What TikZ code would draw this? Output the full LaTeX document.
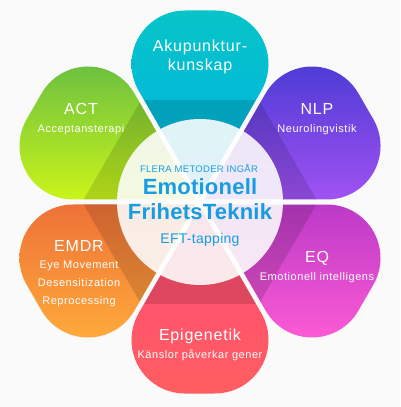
\documentclass[tikz,border=0pt]{standalone}
\usepackage{fontspec}
\setmainfont{Liberation Sans}
\definecolor{bgcol}{RGB}{250,250,250}
\definecolor{hubblue}{RGB}{22,156,226}
\definecolor{akuTop}{RGB}{6,196,200}
\definecolor{akuBot}{RGB}{0,176,228}
\definecolor{nlpTop}{RGB}{74,58,212}
\definecolor{nlpBot}{RGB}{160,82,242}
\definecolor{eqTop}{RGB}{188,58,200}
\definecolor{eqBot}{RGB}{255,92,212}
\definecolor{epiTop}{RGB}{255,72,122}
\definecolor{epiBot}{RGB}{255,94,96}
\definecolor{emdrTop}{RGB}{238,114,56}
\definecolor{emdrBot}{RGB}{255,172,58}
\definecolor{actTop}{RGB}{104,190,66}
\definecolor{actBot}{RGB}{202,244,26}
% one petal, pointing up, tip of the wedge at the origin
\newcommand{\petalpath}{(0,0) -- (60:122.7) arc[start angle=-30, end angle=90, radius=53.5] -- (-15,186.5) arc[start angle=90, end angle=210, radius=53.5] -- cycle}

\begin{document}
\begin{tikzpicture}[x=1pt, y=1pt,
	title/.style={white, anchor=base, inner sep=0, font=\fontsize{16}{19}\selectfont\addfontfeature{LetterSpace=5}},
	sub/.style={white, anchor=base, inner sep=0, font=\fontsize{11}{13}\selectfont\addfontfeature{LetterSpace=5}},
	hubsmall/.style={hubblue, anchor=base, inner sep=0, font=\fontsize{9.5}{11}\selectfont\addfontfeature{LetterSpace=3}},
	hubbig/.style={hubblue, anchor=base, inner sep=0, font=\fontsize{22}{25}\selectfont\bfseries\addfontfeature{LetterSpace=1}},
	hubmid/.style={hubblue, anchor=base, inner sep=0, font=\fontsize{14}{16}\selectfont\addfontfeature{LetterSpace=2}}]
	\useasboundingbox (0,0) rectangle (400,407);
	\fill[bgcol] (0,0) rectangle (400,407);
	
	\foreach \ang/\ctop/\cbot in {90/akuTop/akuBot, 30/nlpTop/nlpBot, -30/eqTop/eqBot, -90/epiTop/epiBot, -150/emdrTop/emdrBot, 150/actTop/actBot}
	{
		\begin{scope}[shift={(200,205)}, rotate=\ang-90, shift={(0,5)}]
			\shade[top color=\ctop, bottom color=\cbot] \petalpath;
			\begin{scope}
				\clip \petalpath;
				\fill[black, opacity=.13] (-130,0) rectangle (130,97);
			\end{scope}
		\end{scope}
	}
	
	\node[circle, fill=white, fill opacity=.88, minimum size=166, inner sep=0] (hub) at (200,205) {};
	
	\node[title] (aku1) at (200,355) {Akupunktur-};
	\node[title] (aku2) at (200,336) {kunskap};
	
	\node[title] (act) at (81,292) {ACT};
	\node[sub] (actsub) at (81,274) {Acceptansterapi};
	
	\node[title] (nlp) at (317,292) {NLP};
	\node[sub] (nlpsub) at (317,274) {Neurolingvistik};
	
	\node[title] (eq) at (317,144) {EQ};
	\node[sub] (eqsub) at (317,126) {Emotionell intelligens};
	
	\node[title] (emdr) at (79,155) {EMDR};
	\node[sub] (emdr1) at (79,138) {Eye Movement};
	\node[sub] (emdr2) at (79,120) {Desensitization};
	\node[sub] (emdr3) at (79,102) {Reprocessing};
	
	\node[title] (epi) at (200,66) {Epigenetik};
	\node[sub] (episub) at (200,48) {Känslor påverkar gener};
	
	\node[hubsmall] (flera) at (199,234) {FLERA METODER INGÅR};
	\node[hubbig] (emo) at (200,212) {Emotionell};
	\node[hubbig] (frihet) at (200,187) {FrihetsTeknik};
	\node[hubmid] (eft) at (200,163) {EFT-tapping};
\end{tikzpicture}
\end{document}
